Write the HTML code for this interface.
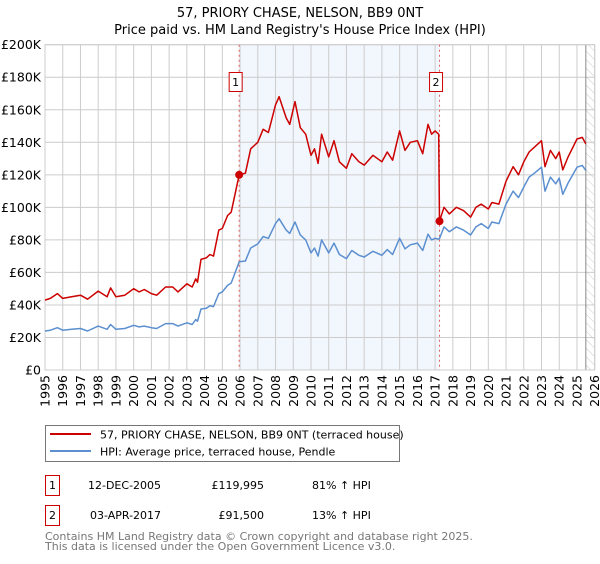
<!DOCTYPE html>
<html><head><meta charset="utf-8"><style>
body{margin:0;background:#fff;font-family:"DejaVu Sans","Liberation Sans",sans-serif;}
svg text{font-family:"DejaVu Sans","Liberation Sans",sans-serif;}
</style></head><body>
<svg id="chart" width="600" height="560" viewBox="0 0 600 560" xmlns="http://www.w3.org/2000/svg">
<defs><pattern id="hatch" width="6" height="6" patternUnits="userSpaceOnUse" patternTransform="rotate(-45)"><line x1="0" y1="0" x2="0" y2="6" stroke="#ccc" stroke-width="1"/></pattern></defs>
<text x="300" y="17" text-anchor="middle" font-size="13">57, PRIORY CHASE, NELSON, BB9 0NT</text>
<text x="300" y="34" text-anchor="middle" font-size="13">Price paid vs. HM Land Registry's House Price Index (HPI)</text>
<g id="plot"></g>
<g>
<rect x="45.5" y="425.5" width="354" height="36" fill="#fff" stroke="#777"/>
<line x1="50" y1="434" x2="91" y2="434" stroke="#cc0000" stroke-width="2"/>
<text x="100" y="438.5" font-size="11">57, PRIORY CHASE, NELSON, BB9 0NT (terraced house)</text>
<line x1="50" y1="451" x2="91" y2="451" stroke="#5b8fd0" stroke-width="2"/>
<text x="100" y="455.5" font-size="11">HPI: Average price, terraced house, Pendle</text>
</g>
<g font-size="11">
<rect x="45.5" y="475.5" width="14" height="20" fill="#fff" stroke="#cc0000"/>
<text x="52.5" y="489" text-anchor="middle">1</text>
<text x="88" y="489">12-DEC-2005</text>
<text x="264" y="489" text-anchor="end">£119,995</text>
<text x="312" y="489">81% ↑ HPI</text>
</g>
<g font-size="11">
<rect x="45.5" y="505.5" width="14" height="20" fill="#fff" stroke="#cc0000"/>
<text x="52.5" y="519" text-anchor="middle">2</text>
<text x="90" y="519">03-APR-2017</text>
<text x="264" y="519" text-anchor="end">£91,500</text>
<text x="312" y="519">13% ↑ HPI</text>
</g>
<text x="45" y="540" font-size="11" fill="#777">Contains HM Land Registry data © Crown copyright and database right 2025.</text>
<text x="45" y="550" font-size="11" fill="#777">This data is licensed under the Open Government Licence v3.0.</text>
</svg>
<script>
const years=[1995.0,1995.3,1995.7,1996.0,1996.5,1997.0,1997.4,1998.0,1998.5,1998.7,1999.0,1999.5,2000.0,2000.3,2000.6,2001.0,2001.3,2001.8,2002.2,2002.5,2003.0,2003.3,2003.5,2003.6,2003.8,2004.1,2004.3,2004.5,2004.8,2005.0,2005.3,2005.5,2005.95,2006.3,2006.6,2007.0,2007.3,2007.6,2008.0,2008.2,2008.6,2008.8,2009.1,2009.4,2009.7,2010.0,2010.2,2010.4,2010.6,2011.0,2011.3,2011.6,2012.0,2012.3,2012.7,2013.0,2013.5,2014.0,2014.3,2014.6,2015.0,2015.3,2015.6,2016.0,2016.3,2016.6,2016.8,2017.0,2017.2,2017.25,2017.5,2017.8,2018.2,2018.6,2019.0,2019.3,2019.6,2020.0,2020.2,2020.6,2021.0,2021.4,2021.7,2022.0,2022.3,2022.6,2023.0,2023.2,2023.5,2023.8,2024.0,2024.2,2024.5,2025.0,2025.3,2025.5];
const hpiValues=[24,24.5,26,24.5,25,25.5,24,27,25,28,25,25.5,27.5,26.5,27,26,25.5,28.5,28.5,27,29,28,31,30,37.5,38,39.5,39,47,48,52,53.5,66.5,67,75,77.5,82,81,90,93,86,84,91,83,80,72,75,70,80,72,78,71,68.5,73.5,70.5,69.5,73,70.5,74,71,81,74.5,77,78,73.5,83.5,80,81,80.5,80.8,88,85,88,86,83,88,90,87,91,90,102,110,106,112.5,118.6,121,124.7,110,118.6,114.5,118,108,115,124.7,125.8,122.7];
const priceValues=[43,44,47,44,45,46,43.5,48.5,45,50.5,45,46,50,48,49.5,47,46,51,51,48,53,51,56,54,68,69,71,70,86,87,95,97,120,121,136,140,148,146,163,168,155,151,165,149,145,132,136,127,145,131,141,128,124,133,128,126,132,128,134,129,147,135,140,141,133,151,145,147,145,91.5,100,96,100,98,94,100,102,99,103,102,116,125,120,128,134,137,141,125,135,130,134,123,131,142,143,139];
const yTicks=[0,20,40,60,80,100,120,140,160,180,200];
const yTickLabels=["£0","£20K","£40K","£60K","£80K","£100K","£120K","£140K","£160K","£180K","£200K"];
const xTicks=[1995,1996,1997,1998,1999,2000,2001,2002,2003,2004,2005,2006,2007,2008,2009,2010,2011,2012,2013,2014,2015,2016,2017,2018,2019,2020,2021,2022,2023,2024,2025,2026];
const saleYears=[2005.95,2017.25];
const salePrices=[119.995,91.5];
const saleLabels=["1","2"];
const dataEndYear=2025.5;

const X0=45,X1=594.7,Y0=370,Y1=44.7;
const xs=y=>X0+(y-1995)/(2026-1995)*(X1-X0);
const ys=v=>Y0-v/200*(Y0-Y1);
const NS="http://www.w3.org/2000/svg";
const plot=document.getElementById('plot');
function mk(tag,attrs){const e=document.createElementNS(NS,tag);for(const k in attrs)e.setAttribute(k,attrs[k]);plot.appendChild(e);return e;}

let r=mk('rect',{x:xs(saleYears[0]),y:Y1,width:xs(saleYears[1])-xs(saleYears[0]),height:Y0-Y1,fill:'#eef3fc',opacity:0.75});


let h=mk('rect',{x:xs(dataEndYear),y:Y1,width:X1-xs(dataEndYear),height:Y0-Y1,fill:'url(#hatch)'});



yTicks.forEach((v,i)=>{
  let l=mk('line',{x1:X0,x2:X1,y1:ys(v),y2:ys(v),stroke:'#ccc','stroke-width':1});
  
  
  let t=mk('text',{x:X0-4,y:ys(v)+4.5,'text-anchor':'end','font-size':12.5});
  t.textContent=yTickLabels[i];
  
  
});
xTicks.forEach(yr=>{
  let l=mk('line',{x1:xs(yr),x2:xs(yr),y1:Y1,y2:Y0,stroke:'#ccc','stroke-width':1});
  
  
  let t=mk('text',{x:0,y:0,'text-anchor':'end','font-size':12.5,transform:`translate(${xs(yr)+4.5},${Y0+5}) rotate(-90)`});
  t.textContent=yr;
  
  
});
let el=mk('line',{x1:xs(dataEndYear),x2:xs(dataEndYear),y1:Y1,y2:Y0,stroke:'#888','stroke-width':1});


let fr=mk('rect',{x:X0,y:Y1,width:X1-X0,height:Y0-Y1,fill:'none',stroke:'#ccc'});



saleYears.forEach((yr,i)=>{
  let l=mk('line',{x1:xs(yr),x2:xs(yr),y1:Y1,y2:Y0,stroke:'#e06060','stroke-width':1,'stroke-dasharray':'2,3'});
  
  
});

const pt=(arr)=>years.map((y,i)=>xs(y).toFixed(1)+','+ys(arr[i]).toFixed(1)).join(' ');
let hp=mk('polyline',{points:pt(hpiValues),fill:'none',stroke:'#5b8fd0','stroke-width':1.5,'stroke-linejoin':'round'});


let pp=mk('polyline',{points:pt(priceValues),fill:'none',stroke:'#cc0000','stroke-width':1.5,'stroke-linejoin':'round'});



saleYears.forEach((yr,i)=>{
  let c=mk('circle',{cx:xs(yr),cy:ys(salePrices[i]),r:4,fill:'#cc0000'});
  
  
  let b=mk('rect',{x:xs(yr)-10,y:72.5,width:13,height:19,fill:'#fff',stroke:'#cc0000'});
  
  
  let t=mk('text',{x:xs(yr)-3.5,y:86,'text-anchor':'middle','font-size':11});
  t.textContent=saleLabels[i];
  
  
});
</script>
</body></html>
